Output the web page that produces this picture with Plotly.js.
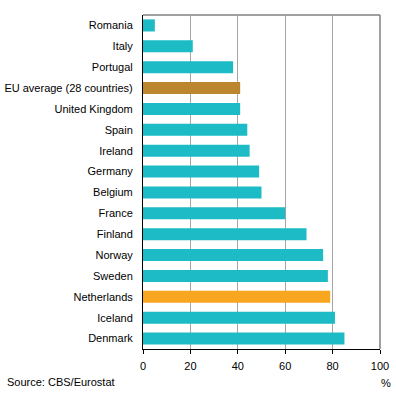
<!DOCTYPE html>
<html>
<head>
<meta charset="utf-8">
<script src="https://cdn.plot.ly/plotly-3.0.1.min.js"></script>
<style>html,body{margin:0;padding:0;background:#fff;}#chart{width:396px;height:395px;}</style>
</head>
<body>
<div id="chart"></div>
<script>
var categories = ["Romania","Italy","Portugal","EU average (28 countries)","United Kingdom","Spain","Ireland","Germany","Belgium","France","Finland","Norway","Sweden","Netherlands","Iceland","Denmark"];
var values = [5,21,38,41,41,44,45,49,50,60,69,76,78,79,81,85];
var xTicks = [0,20,40,60,80,100];

var colors = categories.map(function(c){
  if (c === "Netherlands") return "#F8A51F";
  if (c.indexOf("EU average") === 0) return "#BC8630";
  return "#1DBBC5";
});

var trace = {
  type: "bar",
  orientation: "h",
  y: categories,
  x: values,
  marker: {color: colors, line: {width: 0}},
  hoverinfo: "x+y"
};

var layout = {
  width: 396, height: 395,
  margin: {l: 143, r: 16, t: 15, b: 46, pad: 0},
  paper_bgcolor: "#fff", plot_bgcolor: "#fff",
  bargap: 0.42,
  showlegend: false,
  font: {family: "Liberation Sans, Arial, sans-serif", size: 11, color: "#000"},
  xaxis: {
    range: [0, 100], tickvals: xTicks, ticktext: xTicks.map(String),
    showgrid: true, gridcolor: "#A6A6A6", gridwidth: 1,
    zeroline: false, showline: true, linecolor: "#000", linewidth: 1,
    ticks: "outside", ticklen: 4, tickcolor: "#000",
    ticklabelstandoff: 3,
    tickfont: {size: 11}, fixedrange: true
  },
  yaxis: {
    type: "category", autorange: "reversed",
    showgrid: false, zeroline: false, showline: true, linecolor: "#000", linewidth: 1,
    ticks: "", ticklabelstandoff: 7, tickfont: {size: 11}, fixedrange: true
  },
  shapes: [
    {type: "line", xref: "paper", yref: "paper", x0: 0, x1: 1, y0: 1, y1: 1, line: {color: "#808080", width: 1.5}, layer: "below"},
    {type: "line", xref: "paper", yref: "paper", x0: 1, x1: 1, y0: 0, y1: 1, line: {color: "#808080", width: 1.5}, layer: "below"}
  ],
  annotations: [
    {text: "Source: CBS/Eurostat", xref: "paper", yref: "paper", x: -138/237, y: -33/334, xanchor: "left", yanchor: "middle", showarrow: false, font: {size: 11}},
    {text: "%", xref: "paper", yref: "paper", x: 1.025, y: -34/334, xanchor: "center", yanchor: "middle", showarrow: false, font: {size: 11}}
  ]
};

Plotly.newPlot("chart", [trace], layout, {displayModeBar: false, staticPlot: true});
</script>
</body>
</html>
